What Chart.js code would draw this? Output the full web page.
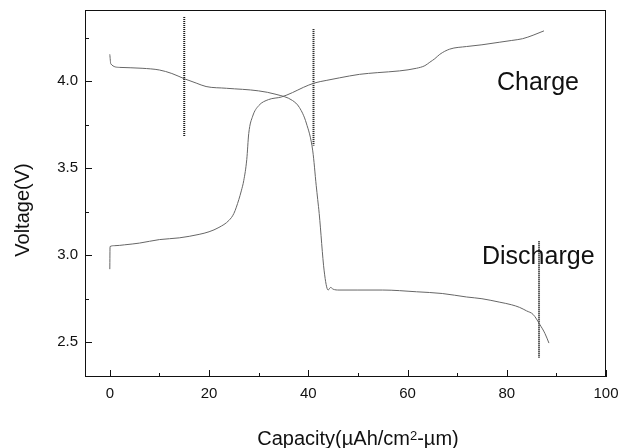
<!DOCTYPE html>
<html>
<head>
<meta charset="utf-8">
<script src="https://cdn.jsdelivr.net/npm/chart.js@4.4.1/dist/chart.umd.min.js"></script>
<style>
  html, body { margin: 0; padding: 0; background: #ffffff; }
  #wrap { width: 624px; height: 448px; }
</style>
</head>
<body>
<div id="wrap"><canvas id="c" width="624" height="448"></canvas></div>
<script>
// Charge curve: capacity (µAh/cm²-µm) vs voltage (V)
const chargeCapacity = [0, 0.05, 1, 3, 6, 10, 14, 18, 20, 22, 24, 25, 26, 26.5, 27, 27.6, 28, 28.8, 30, 32, 34.6, 36.8, 39, 41.2, 43.6, 46.3, 50.3, 54, 58.4, 61.8, 63.5, 64.5, 65.5, 66.5, 68.5, 71.9, 75, 78.6, 81, 83.2, 85.3, 87.5];
const chargeVoltage  = [2.92, 3.05, 3.055, 3.06, 3.07, 3.09, 3.10, 3.12, 3.135, 3.16, 3.20, 3.24, 3.32, 3.37, 3.43, 3.55, 3.70, 3.80, 3.86, 3.895, 3.91, 3.935, 3.965, 3.99, 4.005, 4.02, 4.04, 4.05, 4.06, 4.075, 4.09, 4.11, 4.13, 4.155, 4.185, 4.20, 4.21, 4.225, 4.235, 4.245, 4.265, 4.29];

// Discharge curve
const dischargeCapacity = [0, 0.2, 2, 6.5, 10, 12.5, 15, 17.4, 19.4, 23.5, 30, 33.5, 36.8, 38.2, 39.6, 40.9, 41.6, 41.9, 42.2, 43.2, 44, 44.5, 45, 46.2, 50, 55, 61.8, 67, 71.9, 75, 78.6, 81, 82.6, 84, 85.3, 86.7, 87.7, 88.5];
const dischargeVoltage  = [4.155, 4.10, 4.08, 4.075, 4.065, 4.045, 4.015, 3.99, 3.97, 3.96, 3.945, 3.925, 3.89, 3.85, 3.76, 3.60, 3.40, 3.32, 3.24, 2.91, 2.80, 2.815, 2.805, 2.80, 2.80, 2.80, 2.79, 2.78, 2.76, 2.75, 2.73, 2.715, 2.70, 2.68, 2.66, 2.60, 2.55, 2.495];

// Dotted marker lines: capacity, upper voltage, lower voltage
const markerCapacity = [15, 41.05, 86.5];
const markerTop      = [4.37, 4.30, 3.08];
const markerBottom   = [3.68, 3.63, 2.41];

// Axis ticks
const xMajorTicks = [0, 20, 40, 60, 80, 100];
const xMinorTicks = [10, 30, 50, 70, 90];
const yMajorTicks = [2.5, 3.0, 3.5, 4.0];
const yMinorTicks = [2.75, 3.25, 3.75, 4.25];

const FONT = '"Liberation Sans", Arial, Helvetica, sans-serif';

function toPoints(xs, ys) { return xs.map((x, i) => ({ x: x, y: ys[i] })); }

const curveStyle = {
  showLine: true, pointRadius: 0, borderColor: '#666666', borderWidth: 1,
  cubicInterpolationMode: 'monotone', fill: false
};

const datasets = [
  Object.assign({ label: 'Charge', data: toPoints(chargeCapacity, chargeVoltage) }, curveStyle),
  Object.assign({ label: 'Discharge', data: toPoints(dischargeCapacity, dischargeVoltage) }, curveStyle)
];
markerCapacity.forEach((c, i) => {
  datasets.push({
    label: 'marker' + i,
    data: [{ x: c, y: markerTop[i] }, { x: c, y: markerBottom[i] }],
    showLine: true, pointRadius: 0, borderColor: '#111111', borderWidth: 2,
    borderDash: [1, 1], fill: false
  });
});

// Frame, inward ticks, axis titles and curve labels
const decorations = {
  id: 'decorations',
  afterDraw(chart) {
    const ctx = chart.ctx;
    const a = chart.chartArea;
    const xs = chart.scales.x, ys = chart.scales.y;
    ctx.save();
    ctx.strokeStyle = '#111111';
    ctx.lineWidth = 1;
    ctx.strokeRect(Math.round(a.left) + 0.5, Math.round(a.top) + 0.5,
                   Math.round(a.right - a.left) - 1, Math.round(a.bottom - a.top) - 1);
    ctx.beginPath();
    xMajorTicks.forEach(v => {
      const px = Math.round(xs.getPixelForValue(v)) + 0.5;
      ctx.moveTo(px, a.bottom); ctx.lineTo(px, a.bottom - 7);
    });
    xMinorTicks.forEach(v => {
      const px = Math.round(xs.getPixelForValue(v)) + 0.5;
      ctx.moveTo(px, a.bottom); ctx.lineTo(px, a.bottom - 4);
    });
    yMajorTicks.forEach(v => {
      const py = Math.round(ys.getPixelForValue(v)) + 0.5;
      ctx.moveTo(a.left, py); ctx.lineTo(a.left + 7, py);
    });
    yMinorTicks.forEach(v => {
      const py = Math.round(ys.getPixelForValue(v)) + 0.5;
      ctx.moveTo(a.left, py); ctx.lineTo(a.left + 4, py);
    });
    ctx.stroke();

    ctx.fillStyle = '#111111';
    ctx.textBaseline = 'alphabetic';
    // x-axis title with superscript 2
    const p1 = 'Capacity(\u00b5Ah/cm', p2 = '2', p3 = '-\u00b5m)';
    ctx.font = '20px ' + FONT;
    const w1 = ctx.measureText(p1).width, w3 = ctx.measureText(p3).width;
    ctx.font = '13px ' + FONT;
    const w2 = ctx.measureText(p2).width;
    let tx = 358 - (w1 + w2 + w3) / 2;
    const base = 445;
    ctx.textAlign = 'left';
    ctx.font = '20px ' + FONT; ctx.fillText(p1, tx, base); tx += w1;
    ctx.font = '13px ' + FONT; ctx.fillText(p2, tx, base - 5); tx += w2;
    ctx.font = '20px ' + FONT; ctx.fillText(p3, tx, base);

    // y-axis title
    ctx.save();
    ctx.translate(29, 210);
    ctx.rotate(-Math.PI / 2);
    ctx.textAlign = 'center';
    ctx.font = '20px ' + FONT;
    ctx.fillText('Voltage(V)', 0, 0);
    ctx.restore();

    // curve labels
    ctx.font = '25px ' + FONT;
    ctx.textAlign = 'left';
    ctx.fillText('Charge', 497, 90);
    ctx.fillText('Discharge', 482, 264);
    ctx.restore();
  }
};

new Chart(document.getElementById('c'), {
  type: 'scatter',
  data: { datasets: datasets },
  plugins: [decorations],
  options: {
    responsive: false,
    animation: false,
    devicePixelRatio: 1,
    layout: { padding: { top: 10, right: 18, left: 0, bottom: 0 } },
    plugins: { legend: { display: false }, tooltip: { enabled: false } },
    scales: {
      x: {
        type: 'linear', min: -5, max: 100,
        afterFit(scale) { scale.height = 71; scale.paddingLeft = 0; scale.paddingRight = 0; },
        afterBuildTicks(scale) { scale.ticks = xMajorTicks.map(v => ({ value: v })); },
        grid: { display: false, drawTicks: false },
        border: { display: false },
        ticks: { color: '#111111', font: { family: FONT, size: 15 }, padding: 8, maxRotation: 0,
                 callback: v => String(v) }
      },
      y: {
        type: 'linear', min: 2.3, max: 4.41,
        afterFit(scale) { scale.width = 85; scale.paddingTop = 0; scale.paddingBottom = 0; },
        afterBuildTicks(scale) { scale.ticks = yMajorTicks.map(v => ({ value: v })); },
        grid: { display: false, drawTicks: false },
        border: { display: false },
        ticks: { color: '#111111', font: { family: FONT, size: 15 }, padding: 7,
                 callback: v => Number(v).toFixed(1) }
      }
    }
  }
});
</script>
</body>
</html>
